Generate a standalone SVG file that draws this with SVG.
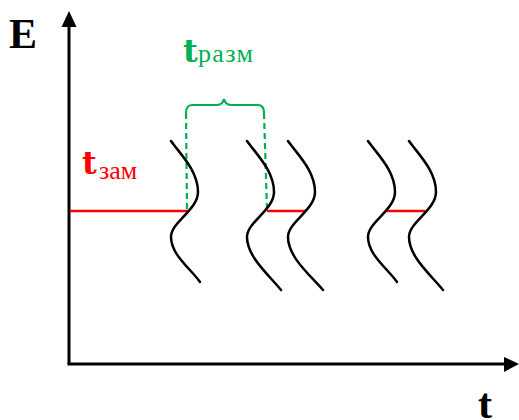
<svg xmlns="http://www.w3.org/2000/svg" width="519" height="420" viewBox="0 0 519 420">
<defs>
<style>
.axis{stroke:#000;stroke-width:3;fill:none}
.wave{stroke:#000;stroke-width:2.5;fill:none;stroke-linecap:round}
.red{stroke:#FF0000;stroke-width:2.5}
.green{stroke:#00B050;stroke-width:2.2;fill:none}
.dash{stroke-dasharray:6,4}
.big{font-family:"Liberation Serif",serif;font-weight:bold;font-size:42px;fill:#000}
.tb{font-family:"DejaVu Serif",serif;font-weight:bold;font-size:32px}
.sub{font-family:"Liberation Serif",serif;font-size:26px}
</style>
</defs>
<g id="axes">
<line class="axis" x1="69" y1="364" x2="69" y2="26"/>
<polygon points="69,11 61.5,27 76.5,27" fill="#000"/>
<line class="axis" x1="67.5" y1="364" x2="505" y2="364"/>
<polygon points="519,364 504,357 504,372" fill="#000"/>
<text class="big" x="9" y="48">E</text>
<text class="big" x="478" y="418">t</text>
</g>
<g id="connectors">
<line class="red" x1="70" y1="211" x2="188" y2="211"/>
<line class="red" x1="267" y1="211" x2="306" y2="211"/>
<line class="red" x1="385" y1="211" x2="425" y2="211"/>
<line class="green dash" x1="186" y1="113" x2="187" y2="210"/>
<line class="green dash" x1="264" y1="113" x2="267" y2="210"/>
</g>
<g id="brace">
<path class="green" d="M186,113 C186,107 188,105 193,105 L217,105 C221,105 223,103 224,99 C225,103 227,105 231,105 L258,105 C262,105 264,107 264,113"/>
</g>
<g id="waves">
<path class="wave" d="M171,141 c10,14 27,30 27,51 c0,18 -27,30 -27,45 c0,18 20,32 29,45"/>
<path class="wave" d="M247,141 c10,14 27,30 27,51 c0,18 -27,30 -27,45 c0,20 22,38 34,53"/>
<path class="wave" d="M288,141 c10,14 27,30 27,51 c0,18 -27,30 -27,45 c0,20 22,38 35,53"/>
<path class="wave" d="M368,141 c10,14 27,30 27,51 c0,18 -27,30 -27,45 c0,18 20,32 29,45"/>
<path class="wave" d="M409,141 c10,14 27,30 27,51 c0,18 -27,30 -27,45 c0,20 22,38 34,53"/>
</g>
<g id="label-zam" fill="#FF0000">
<text class="tb" x="82" y="174">t</text>
<text class="sub" x="99" y="179">зам</text>
</g>
<g id="label-razm" fill="#00B050">
<text class="tb" x="183" y="62">t</text>
<text class="sub" x="198" y="62" textLength="55">разм</text>
</g>
</svg>
